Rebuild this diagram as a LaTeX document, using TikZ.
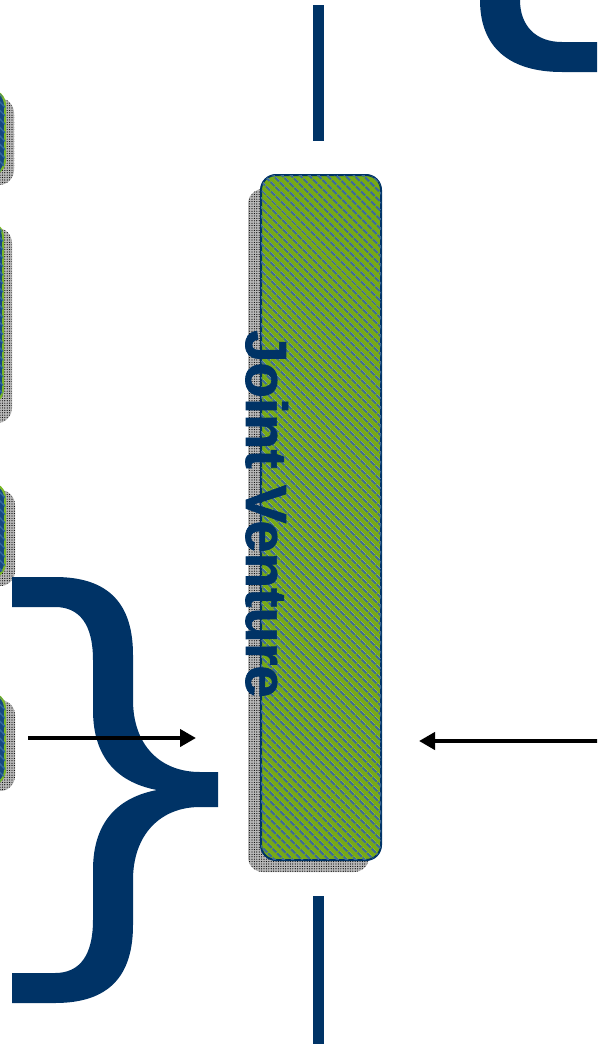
\documentclass[tikz,border=0pt]{standalone}
\usepackage{fontspec}
\setmainfont{Liberation Sans}
\newfontfamily\jvfont{Liberation Sans}[UprightFont=* Bold, FakeBold=1.2]
\usetikzlibrary{arrows.meta,patterns.meta}
\definecolor{dkblue}{RGB}{0,51,102}
\definecolor{jvgreen}{RGB}{118,170,20}
\definecolor{stripe}{RGB}{62,108,150}
\definecolor{bxblue}{RGB}{22,72,130}
\definecolor{bxstripe}{RGB}{50,105,160}
\definecolor{bxgreen}{RGB}{122,184,40}
\tikzset{
  shadowbox/.style={rounded corners=15pt, fill=gray!55,
    postaction={pattern={Dots[radius=0.6pt,distance=2.4pt]}, pattern color=black}},
  jvbox/.style={rounded corners=15pt, fill=jvgreen, draw=dkblue, line width=2pt,
    postaction={pattern={Lines[angle=-45,distance=6.5pt,line width=2.4pt]}, pattern color=stripe}},
  sidebox/.style={rounded corners=15pt, fill=bxblue, draw=bxgreen, line width=2pt,
    postaction={pattern={Lines[angle=-45,distance=6pt,line width=1.5pt]}, pattern color=bxstripe}},
  arr/.style={line width=4pt, -{Triangle[length=16pt,width=17pt]}},
  bar/.style={line width=11.5pt, dkblue},
  jvtext/.style={font=\jvfont\fontsize{58}{60}\selectfont, text=dkblue, inner sep=0pt,
    rotate=-90, anchor=base west}
}
\begin{document}
\begin{tikzpicture}[x=1pt,y=-1pt]
\clip (0,0) rectangle (597,1044);
\fill[white] (0,0) rectangle (597,1044);

% left partial boxes with shadows
\path[shadowbox] (-80,98) rectangle (14,185);
\path[sidebox] (-80,90) rectangle (5,175);
\path[shadowbox] (-80,228) rectangle (12,423);
\path[sidebox] (-80,222) rectangle (3,404);
\path[shadowbox] (-80,490) rectangle (15,586);
\path[sidebox] (-80,483) rectangle (5,578);
\path[shadowbox] (-80,700) rectangle (15,791);
\path[sidebox] (-80,693) rectangle (5,785);
\coordinate (b4) at (28,738);

% main box
\path[shadowbox] (248,189) rectangle (369,872);
\node[jvbox, minimum width=120pt, minimum height=685pt] (jv) at (321,517.5) {};
\node[jvtext] (jvlabel) at (246,330) {Joint Venture};

% vertical bars
\coordinate (t1) at (318.5,5);
\coordinate (t2) at (318.5,141);
\coordinate (u1) at (318.5,896);
\coordinate (u2) at (318.5,1050);
\draw[bar] (t1) -- (t2);
\draw[bar] (u1) -- (u2);

% big brace
\fill[dkblue] (12,577) -- (55,577)
  .. controls (110,577) and (133,605) .. (133,655)
  -- (133,700)
  .. controls (133,745) and (160,772) .. (200,772)
  -- (218,772) -- (218,807) -- (200,807)
  .. controls (160,807) and (133,835) .. (133,880)
  -- (133,925)
  .. controls (133,975) and (110,1003) .. (55,1003)
  -- (12,1003) -- (12,973) -- (55,973)
  .. controls (80,973) and (93,955) .. (93,920)
  -- (93,870)
  .. controls (93,820) and (120,797) .. (157,790)
  .. controls (120,783) and (93,760) .. (93,710)
  -- (93,660)
  .. controls (93,625) and (80,607) .. (55,607)
  -- (12,607) -- cycle;

% top-right brace fragment
\fill[dkblue] (480,-5) -- (480,0)
  .. controls (480,48) and (510,72) .. (562,72)
  -- (600,72) -- (600,42) -- (562,42)
  .. controls (535,42) and (520,25) .. (520,0) -- (520,-5) -- cycle;

% arrows
\coordinate (a1e) at (196,738);
\coordinate (a2s) at (600,741);
\coordinate (a2e) at (419,741);
\draw[arr] (b4) -- (a1e);
\draw[arr] (a2s) -- (a2e);
\end{tikzpicture}
\end{document}
